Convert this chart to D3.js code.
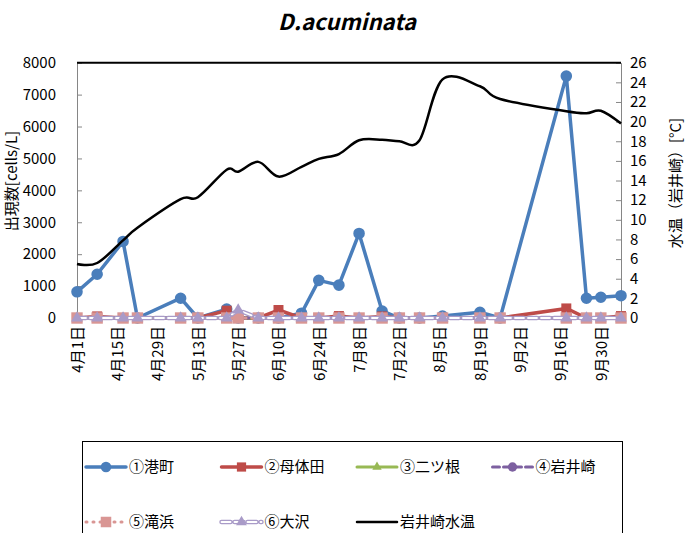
<!DOCTYPE html>
<html>
<head>
<meta charset="utf-8">
<script src="https://cdn.jsdelivr.net/npm/d3@7"></script>
<style>
body { margin: 0; background: #fff; }
svg text { font-family: "Noto Sans CJK JP", "Noto Sans", sans-serif; fill: #000; }
</style>
</head>
<body>
<svg id="chart" width="688" height="533"></svg>
<script>
// sampling dates (month/day)
var dates = ["4/1","4/8","4/17","4/22","5/7","5/13","5/23","5/27","6/3","6/10","6/18","6/24",
             "7/1","7/8","7/16","7/22","7/29","8/6","8/19","8/26","9/18","9/25","9/30","10/7"];

// cells/L per station
var minatomachi = [820,1370,2400,0,620,0,280,0,0,0,150,1180,1030,2650,220,0,0,60,180,0,7580,620,650,700];
var hataida     = [0,50,0,0,0,0,230,0,0,250,0,0,60,0,50,0,0,0,0,0,300,0,0,60];
var futatsune   = [0,0,0,0,0,0,0,0,0,0,0,0,0,0,0,0,0,0,0,0,0,0,0,0];
var iwaisaki    = [0,0,0,0,0,0,0,0,0,0,0,0,0,0,0,0,0,0,0,0,0,0,0,0];
var takihama    = [0,0,0,0,0,0,0,0,0,0,0,0,0,0,0,0,0,0,0,0,0,0,0,0];
var osawa       = [0,0,0,0,0,0,0,250,0,0,0,0,0,0,0,0,0,0,0,0,0,0,0,0];

// water temperature at Iwaisaki (°C)
var waterTemp = [5.5,5.6,7.9,9.2,12.1,12.3,15.1,14.9,15.9,14.4,15.4,16.2,
                 16.7,18.1,18.15,18.0,18.1,24.3,23.6,22.3,21.05,20.85,21.1,19.8];

var tickDates = ["4/1","4/15","4/29","5/13","5/27","6/10","6/24","7/8","7/22","8/5","8/19","9/2","9/16","9/30"];
var leftTicks = [0,1000,2000,3000,4000,5000,6000,7000,8000];
var rightTicks = [0,2,4,6,8,10,12,14,16,18,20,22,24,26];

var parseDate = function(s) { return d3.timeParse("%Y/%m/%d")("2013/" + s); };
var fmtDate = function(d) { return (d.getMonth() + 1) + "月" + d.getDate() + "日"; };

var svg = d3.select("#chart");
var plotL = 77, plotR = 621, plotT = 62.7, plotB = 318;

var x = d3.scaleTime()
	.domain([parseDate("4/1"), parseDate("10/7")])
	.range([plotL, plotR]);
var y = d3.scaleLinear().domain([0, 8000]).range([plotB, plotT]);
var y2 = d3.scaleLinear().domain([0, 26]).range([plotB, plotT]);

// title
svg.append("text")
	.attr("x", 347).attr("y", 30)
	.attr("text-anchor", "middle")
	.style("font-size", "22px").style("font-weight", "bold").style("font-style", "italic")
	.text("D.acuminata");

// axes
var axisLeft = svg.append("g")
	.attr("transform", "translate(" + plotL + ",0)")
	.call(d3.axisLeft(y).tickValues(leftTicks).tickFormat(d3.format("d"))
		.tickSizeInner(-5).tickSizeOuter(0).tickPadding(21));
var axisRight = svg.append("g")
	.attr("transform", "translate(" + plotR + ",0)")
	.call(d3.axisRight(y2).tickValues(rightTicks).tickSizeInner(-5).tickSizeOuter(0).tickPadding(9));
var axisBottom = svg.append("g")
	.attr("transform", "translate(0," + plotB + ")")
	.call(d3.axisBottom(x).tickValues(tickDates.map(parseDate)).tickFormat(fmtDate).tickSize(0));

[axisLeft, axisRight, axisBottom].forEach(function(a) {
	a.selectAll("path, line").attr("stroke", "#868686");
	a.selectAll("text").style("font-size", "15px");
});
axisBottom.selectAll("text")
	.attr("transform", "rotate(-90)")
	.attr("text-anchor", "end")
	.attr("x", -8).attr("y", 0).attr("dy", "0.35em");

// top border line of plot
svg.append("line")
	.attr("x1", plotL).attr("x2", plotR).attr("y1", plotT).attr("y2", plotT)
	.attr("stroke", "#000").attr("stroke-width", 2);

// axis titles
svg.append("text")
	.attr("transform", "translate(12,181) rotate(-90)")
	.attr("text-anchor", "middle").attr("dy", "0.35em")
	.style("font-size", "15px")
	.text("出現数[cells/L]");
svg.append("text")
	.attr("transform", "translate(676,183) rotate(-90)")
	.attr("text-anchor", "middle").attr("dy", "0.35em")
	.style("font-size", "15px")
	.text("水温（岩井崎）[°C]");

var series = [
	{name: "①港町",   values: minatomachi, color: "#4A7EBB", width: 3.5, dash: null, sym: d3.symbolCircle, size: 105},
	{name: "②母体田", values: hataida,     color: "#BE4B48", width: 3.5, dash: null, sym: d3.symbolSquare, size: 100},
	{name: "③二ツ根", values: futatsune,   color: "#98B954", width: 3,   dash: null, sym: d3.symbolTriangle, size: 45},
	{name: "④岩井崎", values: iwaisaki,    color: "#7D60A0", width: 3,   dash: "7,4", sym: d3.symbolCircle, size: 80},
	{name: "⑤滝浜",   values: takihama,    color: "#D99694", width: 3,   dash: "1,6", sym: d3.symbolSquare, size: 130},
	{name: "⑥大沢",   values: osawa,       color: "#A99BC8", width: 4.5, dash: "9,4", sym: d3.symbolTriangle, size: 60, hollow: true}
];

var line = d3.line()
	.x(function(d) { return x(d.date); })
	.y(function(d) { return y(d.v); });

function drawLine(g, s, path) {
	var p = g.append("path")
		.attr("d", path)
		.attr("fill", "none")
		.attr("stroke", s.color)
		.attr("stroke-width", s.width)
		.attr("stroke-linejoin", "round")
		.attr("stroke-linecap", "round");
	if(s.dash) p.attr("stroke-dasharray", s.dash);
	if(s.hollow) {
		g.append("path")
			.attr("d", path)
			.attr("fill", "none")
			.attr("stroke", "#fff")
			.attr("stroke-width", 1.8)
			.attr("stroke-linecap", "round")
			.attr("stroke-dasharray", s.dash);
	}
}

var plot = svg.append("g");
series.forEach(function(s) {
	var pts = dates.map(function(d, i) { return {date: parseDate(d), v: s.values[i]}; });
	var g = plot.append("g");
	drawLine(g, s, line(pts));
	g.selectAll("path.mk")
		.data(pts)
		.enter().append("path")
		.attr("class", "mk")
		.attr("transform", function(d) { return "translate(" + x(d.date) + "," + y(d.v) + ")"; })
		.attr("d", d3.symbol().type(s.sym).size(s.size))
		.attr("fill", s.color);
});

// temperature on secondary axis, smoothed
var tempLine = d3.line()
	.x(function(d) { return x(d.date); })
	.y(function(d) { return y2(d.v); })
	.curve(d3.curveCardinal.tension(0));
svg.append("path")
	.datum(dates.map(function(d, i) { return {date: parseDate(d), v: waterTemp[i]}; }))
	.attr("d", tempLine)
	.attr("fill", "none")
	.attr("stroke", "#000")
	.attr("stroke-width", 2.5);

// legend
var legend = svg.append("g");
legend.append("rect")
	.attr("x", 82.5).attr("y", 441.5).attr("width", 540).attr("height", 100)
	.attr("fill", "none").attr("stroke", "#000").attr("stroke-width", 1);

var legendItems = series.concat([{name: "岩井崎水温", color: "#000", width: 2.5, dash: null, sym: null}]);
legendItems.forEach(function(s, i) {
	var cx = 86 + (i % 4) * 135.5;
	var cy = i < 4 ? 467 : 522;
	var g = legend.append("g");
	drawLine(g, s, "M" + cx + "," + cy + "H" + (cx + 40));
	if(s.sym) {
		g.append("path")
			.attr("transform", "translate(" + (cx + 20) + "," + cy + ")")
			.attr("d", d3.symbol().type(s.sym).size(s.size * 0.85))
			.attr("fill", s.color);
	}
	g.append("text")
		.attr("x", cx + 43).attr("y", cy).attr("dy", "0.35em")
		.style("font-size", "15px")
		.text(s.name);
});
</script>
</body>
</html>
